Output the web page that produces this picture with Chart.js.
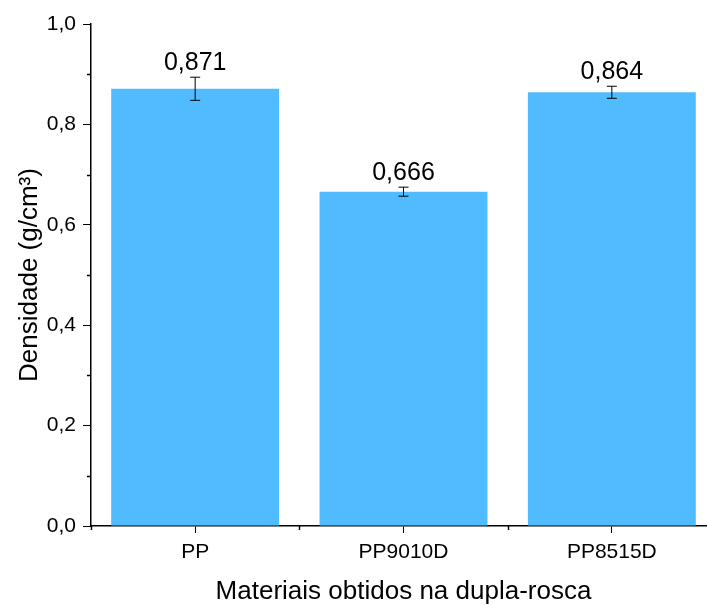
<!DOCTYPE html>
<html>
<head>
<meta charset="utf-8">
<script src="https://cdn.jsdelivr.net/npm/chart.js@4.4.0/dist/chart.umd.min.js"></script>
<style>
  html, body { margin: 0; padding: 0; background: #fff; overflow: hidden; }
  #wrap { width: 720px; height: 605px; }
</style>
</head>
<body>
<div id="wrap"><canvas id="densChart"></canvas></div>
<script>
// Density of twin-screw materials
const categories = ["PP", "PP9010D", "PP8515D"];
const densities  = [0.871, 0.666, 0.864];
const errors     = [0.023, 0.009, 0.012];
const valueLabels = ["0,871", "0,666", "0,864"];
const yMinorTicks = [0.1, 0.3, 0.5, 0.7, 0.9];

const FONT = "'Liberation Sans', Arial, sans-serif";

// error bars, value labels and minor ticks
const extrasPlugin = {
  id: "extras",
  afterDatasetsDraw(chart) {
    const ctx = chart.ctx;
    const x = chart.scales.x, y = chart.scales.y;
    ctx.save();
    ctx.strokeStyle = "#000";
    ctx.lineWidth = 1;
    densities.forEach((v, i) => {
      const cx = x.getPixelForValue(i);
      const top = y.getPixelForValue(v + errors[i]);
      const bot = y.getPixelForValue(v - errors[i]);
      ctx.beginPath();
      ctx.moveTo(cx, top); ctx.lineTo(cx, bot);
      ctx.moveTo(cx - 5, top); ctx.lineTo(cx + 5, top);
      ctx.moveTo(cx - 5, bot); ctx.lineTo(cx + 5, bot);
      ctx.stroke();

      ctx.fillStyle = "#000";
      ctx.font = "25px " + FONT;
      ctx.textAlign = "center";
      ctx.textBaseline = "bottom";
      ctx.fillText(valueLabels[i], cx, top - 2);
    });

    // minor ticks
    ctx.lineWidth = 1.5;
    ctx.beginPath();
    yMinorTicks.forEach(v => {
      const py = Math.round(y.getPixelForValue(v)) + 0.5;
      ctx.moveTo(y.right - 4, py); ctx.lineTo(y.right, py);
    });
    for (let i = 0; i <= categories.length; i++) {
      const px = Math.round(x.getPixelForValue(i - 0.5)) + 0.5;
      ctx.moveTo(px, x.top); ctx.lineTo(px, x.top + 4);
    }
    ctx.stroke();
    ctx.restore();
  }
};

new Chart(document.getElementById("densChart"), {
  type: "bar",
  data: {
    labels: categories,
    datasets: [{
      data: densities,
      backgroundColor: "#50BBFF",
      borderWidth: 0,
      barPercentage: 0.806,
      categoryPercentage: 1.0
    }]
  },
  options: {
    responsive: true,
    maintainAspectRatio: false,
    animation: false,
    layout: { padding: { top: 24, right: 4 } },
    plugins: {
      legend: { display: false },
      tooltip: { enabled: false }
    },
    scales: {
      x: {
        offset: true,
        afterFit: s => { s.height = 79; },
        border: { color: "#000", width: 1.5 },
        grid: { offset: false, drawOnChartArea: false, color: "#000", tickLength: 7 },
        ticks: { color: "#000", font: { family: FONT, size: 21 }, padding: 7 },
        title: {
          display: true,
          text: "Materiais obtidos na dupla-rosca",
          color: "#000",
          font: { family: FONT, size: 26 },
          padding: { top: 9, bottom: -2 }
        }
      },
      y: {
        min: 0,
        max: 1,
        afterFit: s => { s.width = 91; },
        border: { color: "#000", width: 1.5 },
        grid: { drawOnChartArea: false, color: "#000", tickLength: 8 },
        ticks: {
          stepSize: 0.2,
          color: "#000",
          font: { family: FONT, size: 21 },
          padding: 7,
          callback: v => v.toFixed(1).replace(".", ",")
        },
        title: {
          display: true,
          text: "Densidade (g/cm³)",
          color: "#000",
          font: { family: FONT, size: 26 },
          padding: { top: 14 }
        }
      }
    }
  },
  plugins: [extrasPlugin]
});
</script>
</body>
</html>
